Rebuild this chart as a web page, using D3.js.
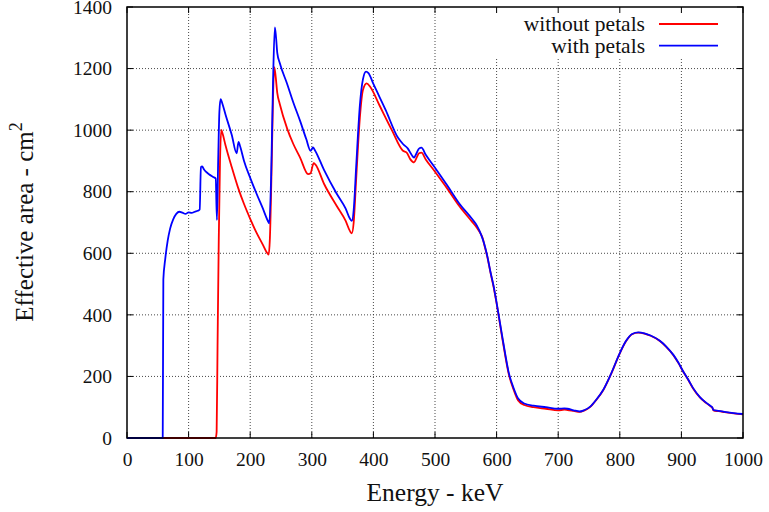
<!DOCTYPE html>
<html><head><meta charset="utf-8">
<script src="https://cdn.jsdelivr.net/npm/d3@7"></script>
<style>body{margin:0;background:#fff}svg{display:block}</style>
</head><body>
<svg id="c" width="769" height="512"></svg>
<script>
const xTicks = [0,100,200,300,400,500,600,700,800,900,1000];
const yTicks = [0,200,400,600,800,1000,1200,1400];
const seriesNames = ["without petals","with petals"];
const seriesColors = ["#ff0000","#0000ff"];

// with petals (blue)
const energyWith = [0,58,59,62,66,70,75,80,85,90,95,100,105,110,115,118,120,122,125,128,133,140,144,146,148,150,152,155,160,170,178,181,184,190,200,210,220,230,231,234,237,240,242,244,248,260,270,281,291,298,302,305,320,340,355,362,365,368,372,378,383,388,392,400,420,440,448,456,462,466,470,474,478,485,500,520,540,560,568,575,580,585,590,595,600,610,620,628,635,645,660,680,700,710,715,725,735,742,752,762,773,785,800,810,820,830,840,850,865,875,887,895,903,911,919,930,940,948,950,952,960,970,985,1000];
const areaWith = [0,0,515,580,640,680,710,728,735,732,728,733,731,735,738,742,880,882,872,865,857,848,843,708,900,1060,1101,1085,1050,985,925,962,945,900,845,795,748,700,697,850,1150,1334,1300,1250,1218,1150,1090,1030,971,933,944,935,870,795,745,712,705,740,880,1080,1165,1190,1185,1150,1065,975,955,940,920,911,925,940,943,920,878,820,760,712,690,660,630,590,540,495,440,320,210,160,128,112,105,100,95,96,95,90,86,90,102,125,156,205,276,315,338,343,340,333,316,298,270,245,216,190,162,133,115,103,100,91,88,85,81,78];

// without petals (red)
const energyWithout = [0,144,145.5,147,149,151,153,155,160,170,180,190,200,210,220,228,230,232,235,237,239,241,244,248,260,270,281,294,298,303,306,320,340,355,362,365,368,372,378,383,389,395,410,430,448,454,460,466,470,474,478,485,500,520,540,560,568,575,578,580,585,590,595,600,610,620,628,635,645,660,680,700,710,715,725,735,742,752,762,773,785,800,810,820,830,840,850,865,875,887,895,903,911,919,930,940,948,950,952,960,970,985,1000];
const areaWithout = [0,0,20,300,650,900,1001,990,950,880,815,760,712,668,630,600,596,650,900,1100,1205,1180,1120,1085,1005,955,911,857,860,893,888,825,755,705,672,665,700,840,1040,1130,1152,1140,1080,1000,933,927,905,895,910,925,927,905,865,810,752,703,683,660,645,628,588,538,492,437,315,205,155,122,107,100,95,90,92,91,88,85,89,101,124,155,204,275,314,337,342,339,332,315,297,269,244,215,189,161,132,114,102,99,90,87,84,80,77];

const FONT = "'Liberation Serif', Tinos, 'Times New Roman', Times, 'DejaVu Serif', serif";
const svg = d3.select("#c").style("font-family", FONT);
const L=127, R=743, T=7, B=438;
const x = d3.scaleLinear().domain([0,1000]).range([L,R]);
const y = d3.scaleLinear().domain([0,1400]).range([B,T]);

const legendBox = {x0: 470, y1: 57};

// grid
const grid = svg.append("g").attr("stroke","#333").attr("stroke-width",0.9).attr("stroke-dasharray","1,2");
xTicks.slice(1,-1).forEach(t=>{
  const top = x(t) > legendBox.x0 ? legendBox.y1 : T;
  grid.append("line").attr("x1",x(t)).attr("x2",x(t)).attr("y1",B).attr("y2",top);
});
yTicks.slice(1,-1).forEach(t=>{
  grid.append("line").attr("x1",L).attr("x2",R).attr("y1",y(t)).attr("y2",y(t));
});

// ticks (inward, mirrored)
const tk = svg.append("g").attr("stroke","#000").attr("stroke-width",1);
xTicks.forEach(t=>{
  tk.append("line").attr("x1",x(t)).attr("x2",x(t)).attr("y1",B).attr("y2",B-6);
  tk.append("line").attr("x1",x(t)).attr("x2",x(t)).attr("y1",T).attr("y2",T+6);
});
yTicks.forEach(t=>{
  tk.append("line").attr("x1",L).attr("x2",L+6).attr("y1",y(t)).attr("y2",y(t));
  tk.append("line").attr("x1",R).attr("x2",R-6).attr("y1",y(t)).attr("y2",y(t));
});

const xa = svg.append("g").attr("transform",`translate(0,${B})`)
  .call(d3.axisBottom(x).tickValues(xTicks).tickSize(0).tickPadding(14).tickFormat(d3.format("d")));
xa.attr("font-family", FONT).attr("font-size",19.5);
xa.select(".domain").remove();
xa.selectAll("text").style("font-family",FONT).attr("fill","#111");
const ya = svg.append("g").attr("transform",`translate(${L},0)`)
  .call(d3.axisLeft(y).tickValues(yTicks).tickSize(0).tickPadding(15).tickFormat(d3.format("d")));
ya.attr("font-family", FONT).attr("font-size",19.5);
ya.select(".domain").remove();
ya.selectAll("text").style("font-family",FONT).attr("fill","#111");

// lines
const line = d3.line().x(d=>x(d[0])).y(d=>y(d[1])).curve(d3.curveMonotoneX);
const dataWithout = energyWithout.map((e,i)=>[e,areaWithout[i]]);
const dataWith = energyWith.map((e,i)=>[e,areaWith[i]]);
svg.append("path").datum(dataWithout).attr("d",line).attr("fill","none").attr("stroke",seriesColors[0]).attr("stroke-width",1.8);
svg.append("path").datum(dataWith).attr("d",line).attr("fill","none").attr("stroke",seriesColors[1]).attr("stroke-width",1.8);

// frame
svg.append("rect").attr("x",L).attr("y",T).attr("width",R-L).attr("height",B-T)
  .attr("fill","none").attr("stroke","#000").attr("stroke-width",1.5);

// legend
seriesNames.forEach((n,i)=>{
  const ly = 24 + i*21.7;
  svg.append("text").attr("x",645).attr("y",ly).attr("dy","0.33em").attr("text-anchor","end")
    .attr("font-size",21.5).attr("fill","#111").style("font-family",FONT).text(n);
  svg.append("line").attr("x1",659).attr("x2",718).attr("y1",ly).attr("y2",ly)
    .attr("stroke",seriesColors[i]).attr("stroke-width",1.8);
});

// axis titles
svg.append("text").attr("x",435).attr("y",501).attr("text-anchor","middle").attr("font-size",25.5)
  .attr("fill","#111").style("font-family",FONT).text("Energy - keV");
const yt = svg.append("text").attr("transform","translate(33,222) rotate(-90)").attr("text-anchor","middle")
  .attr("font-size",25).attr("fill","#111").style("font-family",FONT);
yt.append("tspan").text("Effective area - cm");
yt.append("tspan").attr("dy",-11).attr("font-size",18).text("2");
</script>
</body></html>
